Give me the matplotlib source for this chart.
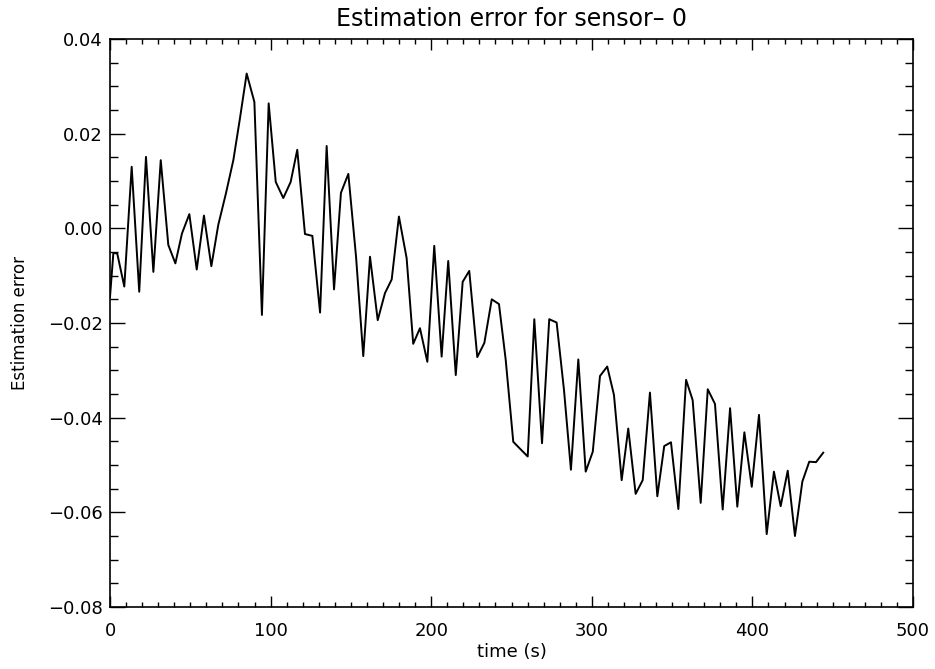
import matplotlib
matplotlib.use('Agg')
import matplotlib.pyplot as plt
from matplotlib.ticker import MultipleLocator

# values
time_s = [0.0, 2.1, 4.5, 8.9, 13.5, 18.2, 22.4, 27.0, 31.6, 36.3,
          40.7, 44.8, 49.4, 54.0, 58.5, 63.1, 67.4, 72.2, 76.8, 80.9,
          85.1, 89.9, 94.6, 98.8, 103.2, 107.9, 112.5, 116.6, 121.4, 126.0,
          130.8, 134.9, 139.5, 143.8, 148.4, 153.2, 157.7, 161.9, 166.7, 171.2,
          175.4, 179.9, 184.7, 188.8, 193.0, 197.6, 201.9, 206.5, 210.6, 215.3,
          219.6, 223.7, 228.7, 233.1, 237.7, 242.2, 246.4, 251.1, 255.7, 260.1,
          264.2, 269.0, 273.5, 278.1, 282.7, 287.0, 291.6, 296.2, 300.6, 305.1,
          309.6, 313.8, 318.6, 322.7, 327.3, 331.7, 336.2, 340.8, 345.1, 349.3,
          353.9, 358.7, 362.8, 367.8, 372.2, 376.7, 381.5, 386.1, 390.6, 395.0,
          399.6, 404.1, 408.9, 413.4, 417.6, 422.0, 426.5, 431.1, 435.4, 439.6,
          444.1]
est_error = [-0.0145, -0.0052, -0.0053, -0.0123, 0.0130, -0.0134, 0.0151, -0.0092, 0.0144, -0.0035,
             -0.0074, -0.0011, 0.0030, -0.0087, 0.0027, -0.0080, 0.0007, 0.0074, 0.0144, 0.0232,
             0.0327, 0.0267, -0.0183, 0.0264, 0.0098, 0.0064, 0.0098, 0.0166, -0.0012, -0.0016,
             -0.0178, 0.0174, -0.0129, 0.0075, 0.0115, -0.0060, -0.0270, -0.0060, -0.0194, -0.0137,
             -0.0108, 0.0025, -0.0063, -0.0244, -0.0211, -0.0282, -0.0037, -0.0271, -0.0069, -0.0310,
             -0.0113, -0.0090, -0.0272, -0.0242, -0.0150, -0.0160, -0.0278, -0.0451, -0.0467, -0.0482,
             -0.0192, -0.0454, -0.0192, -0.0199, -0.0342, -0.0510, -0.0277, -0.0514, -0.0472, -0.0312,
             -0.0292, -0.0352, -0.0532, -0.0423, -0.0561, -0.0532, -0.0347, -0.0566, -0.0460, -0.0452,
             -0.0593, -0.0320, -0.0363, -0.0580, -0.0340, -0.0371, -0.0594, -0.0380, -0.0588, -0.0431,
             -0.0546, -0.0394, -0.0646, -0.0514, -0.0587, -0.0512, -0.0650, -0.0535, -0.0493, -0.0494,
             -0.0474]

plt.rcParams['font.family'] = ['DejaVu Sans']

fig = plt.figure(figsize=(9.35, 6.69), dpi=100)
ax = fig.add_axes([110/935, 1 - 607/669, 803/935, 568/669])

ax.plot(time_s, est_error, color='black', linewidth=1.4)

ax.set_xlim(0, 500)
ax.set_ylim(-0.08, 0.04)
ax.xaxis.set_major_locator(MultipleLocator(100))
ax.xaxis.set_minor_locator(MultipleLocator(10))
ax.yaxis.set_major_locator(MultipleLocator(0.02))
ax.yaxis.set_minor_locator(MultipleLocator(0.005))
ax.yaxis.set_major_formatter(plt.FuncFormatter(lambda v, p: f"{v:.2f}".replace('-', '\u2212')))

ax.tick_params(axis='x', which='major', direction='in', length=8, width=1, top=True, labelsize=13, pad=11)
ax.tick_params(axis='x', which='minor', direction='in', length=3.5, width=1, top=True)
ax.tick_params(axis='y', which='major', direction='in', length=11, width=1, right=True, labelsize=13, pad=5)
ax.tick_params(axis='y', which='minor', direction='in', length=5.5, width=1, right=True)
for s in ax.spines.values():
    s.set_linewidth(1.2)

ax.set_title('Estimation error for sensor\u2013 0', fontsize=17, pad=9)
ax.set_xlabel('time (s)', fontsize=13, labelpad=2)
ax.set_ylabel('Estimation error', fontsize=12, labelpad=14)

plt.savefig('out.png', dpi=100)
plt.close()
